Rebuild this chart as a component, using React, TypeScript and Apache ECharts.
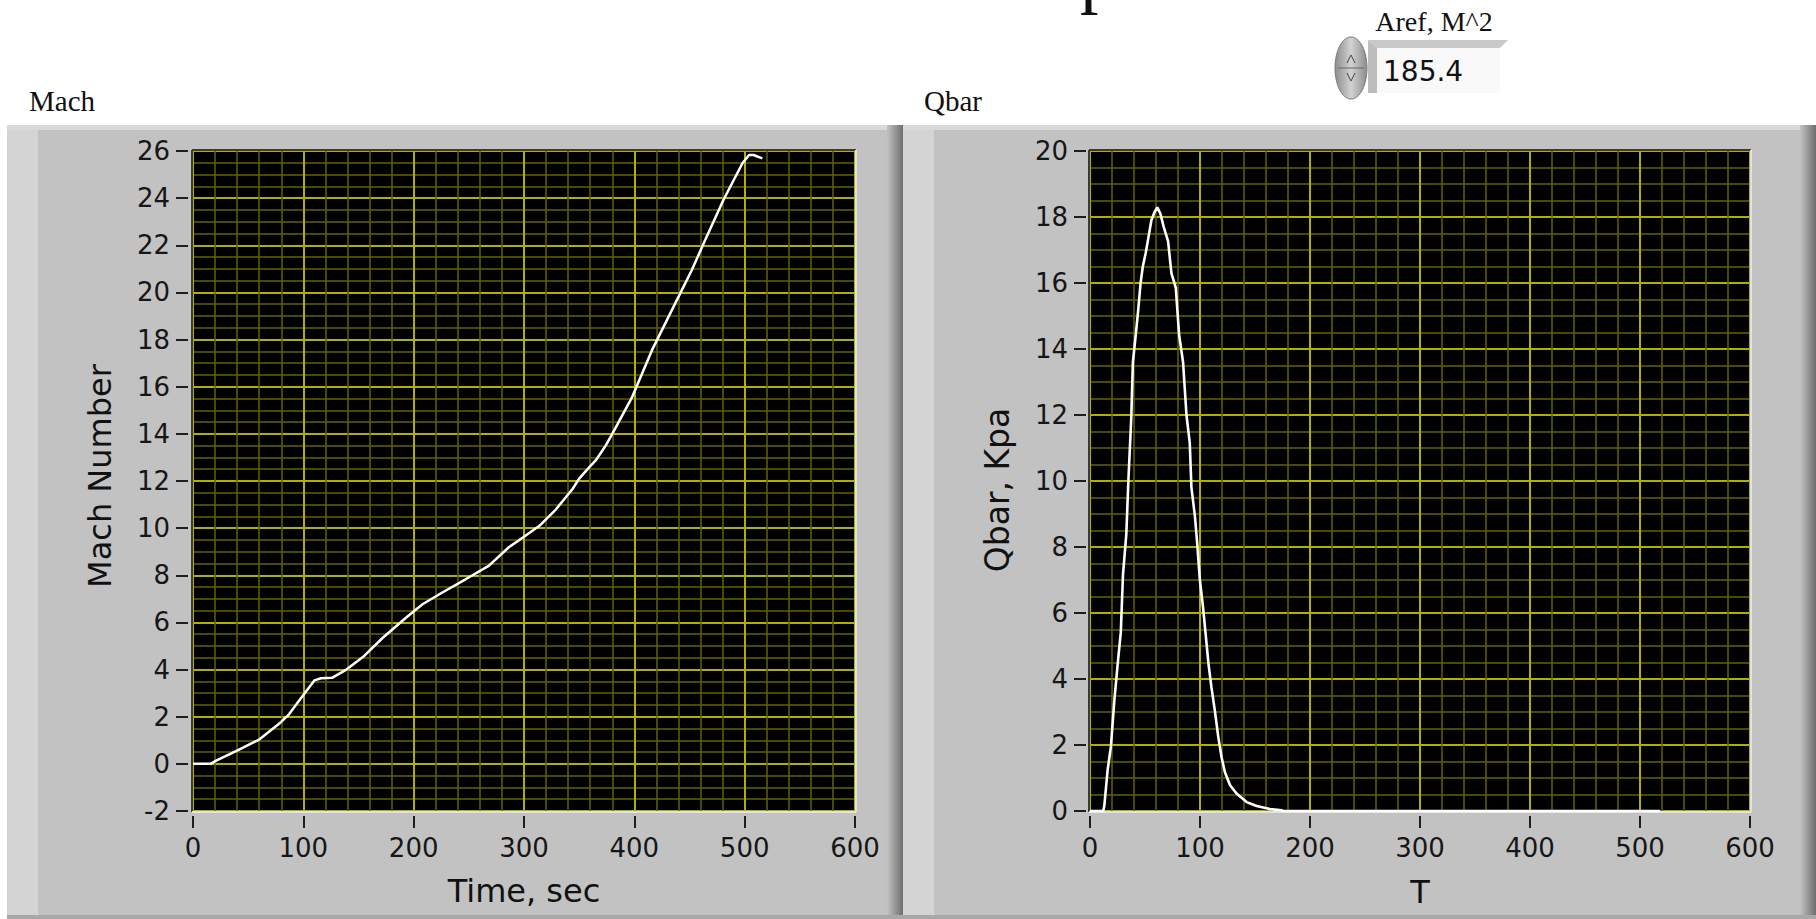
import React, { useEffect, useRef } from "react";
import * as echarts from "echarts";

// ---- data ----
const machTime = [0, 16, 21, 39, 60, 78, 87, 100, 110, 116, 126, 139, 154, 172, 193, 208, 226, 247, 268, 286, 299, 314, 329, 344, 350, 359, 365, 374, 380, 398, 416, 434, 452, 464, 480, 486, 498, 504, 508, 516];
const machValue = [0, 0, 0.14, 0.54, 1.03, 1.7, 2.1, 2.92, 3.54, 3.63, 3.65, 4.0, 4.53, 5.35, 6.2, 6.77, 7.27, 7.83, 8.4, 9.18, 9.6, 10.1, 10.8, 11.66, 12.1, 12.58, 12.87, 13.5, 14.0, 15.56, 17.55, 19.25, 20.94, 22.2, 23.85, 24.4, 25.48, 25.83, 25.83, 25.69];

const qbarTime = [0, 12, 13, 16, 19, 22, 25, 28, 30, 33, 35, 37.5, 39, 41.5, 43.6, 46, 48, 50.6, 52.7, 55.8, 58.8, 61.2, 64, 67, 71, 74, 78, 81, 84.6, 87.7, 90.7, 92.2, 95.3, 97.4, 99.8, 102.9, 105.3, 107.7, 110.4, 113.5, 116.5, 119.6, 122.6, 127.2, 133.2, 142.4, 151.5, 163.6, 174.3, 175, 518];
const qbarValue = [0, 0, 0.15, 1.24, 1.95, 3.3, 4.39, 5.42, 7.16, 8.38, 10.1, 11.9, 13.6, 14.4, 15.1, 16.0, 16.5, 16.9, 17.3, 17.9, 18.16, 18.29, 18.1, 17.7, 17.26, 16.3, 15.85, 14.43, 13.6, 12.0, 11.15, 9.8, 8.96, 8.13, 7.03, 6.13, 5.3, 4.46, 3.75, 3.04, 2.27, 1.63, 1.18, 0.79, 0.53, 0.27, 0.15, 0.06, 0.02, 0, 0];

const timeTicks = [0, 100, 200, 300, 400, 500, 600];
const machTicks = [-2, 0, 2, 4, 6, 8, 10, 12, 14, 16, 18, 20, 22, 24, 26];
const qbarTicks = [0, 2, 4, 6, 8, 10, 12, 14, 16, 18, 20];

const panelLabels = ["Mach", "Qbar"];
const axisTitles = ["Mach Number", "Time, sec", "Qbar, Kpa", "T"];
const arefLabel = "Aref, M^2";
const arefValue = "185.4";

// ---- styling ----
const SANS = '"DejaVu Sans", "Noto Sans", sans-serif';
const SERIF = '"Liberation Serif", "DejaVu Serif", serif';
const MAJOR = "#b0b000";
const MINOR = "#626200";
const PANEL = "#c2c2c2";

const G1 = { left: 193, top: 151, width: 662, height: 660 };
const G2 = { left: 1090, top: 151, width: 660, height: 660 };

function xAxisOf(gridIndex: number) {
  return {
    type: "value",
    gridIndex,
    min: timeTicks[0],
    max: timeTicks[timeTicks.length - 1],
    interval: timeTicks[1] - timeTicks[0],
    offset: 5,
    axisLine: { show: false, onZero: false },
    axisTick: { show: true, length: 12, lineStyle: { color: "#1e1e1e", width: 2 } },
    axisLabel: { fontSize: 26, fontFamily: SANS, color: "#161616", margin: 19 },
    splitLine: { show: true, lineStyle: { color: MAJOR, width: 2 } },
    minorTick: { show: false, splitNumber: 5 },
    minorSplitLine: { show: true, lineStyle: { color: MINOR, width: 1.5 } },
  };
}

function yAxisOf(gridIndex: number, ticks: number[], offset: number) {
  return {
    type: "value",
    gridIndex,
    min: ticks[0],
    max: ticks[ticks.length - 1],
    interval: ticks[1] - ticks[0],
    offset,
    axisLine: { show: false, onZero: false },
    axisTick: { show: true, length: 12, lineStyle: { color: "#1e1e1e", width: 2 } },
    axisLabel: { fontSize: 26, fontFamily: SANS, color: "#161616", margin: 18 },
    splitLine: { show: true, lineStyle: { color: MAJOR, width: 2 } },
    minorTick: { show: false, splitNumber: 4 },
    minorSplitLine: { show: true, lineStyle: { color: MINOR, width: 1.5 } },
  };
}

function txt(text: string, x: number, y: number, font: string, align: string, extra: any = {}) {
  return {
    type: "text",
    x,
    y,
    z: 20,
    ...extra,
    style: {
      text,
      x: 0,
      y: 0,
      font,
      fill: "#111111",
      align,
      verticalAlign: "middle",
      textAlign: align,
      textVerticalAlign: "middle",
    },
  };
}

function frame(g: { left: number; top: number; width: number; height: number }) {
  const l = g.left - 1, t = g.top - 1, r = g.left + g.width + 1, b = g.top + g.height + 1;
  return [
    { type: "line", z: 3, shape: { x1: l, y1: t, x2: r, y2: t }, style: { stroke: "#3a3a3a", lineWidth: 2 } },
    { type: "line", z: 3, shape: { x1: l, y1: t, x2: l, y2: b }, style: { stroke: "#3a3a3a", lineWidth: 2 } },
    { type: "line", z: 3, shape: { x1: l, y1: b, x2: r, y2: b }, style: { stroke: "#e2e2e2", lineWidth: 2 } },
    { type: "line", z: 3, shape: { x1: r, y1: t, x2: r, y2: b }, style: { stroke: "#e2e2e2", lineWidth: 2 } },
  ];
}

function panel(x: number, w: number) {
  return [
    { type: "rect", z: -10, shape: { x, y: 125, width: w, height: 794 }, style: { fill: PANEL } },
    { type: "rect", z: -9, shape: { x, y: 125, width: 31, height: 794 }, style: { fill: "#d4d4d4" } },
    { type: "rect", z: -9, shape: { x, y: 125, width: w, height: 5 }, style: { fill: "#d9d9d9" } },
    {
      type: "rect",
      z: -9,
      shape: { x: x + w - 16, y: 125, width: 16, height: 794 },
      style: {
        fill: {
          type: "linear", x: 0, y: 0, x2: 1, y2: 0,
          colorStops: [
            { offset: 0, color: PANEL },
            { offset: 1, color: "#6e6e6e" },
          ],
        },
      },
    },
    { type: "rect", z: -9, shape: { x, y: 915, width: w, height: 4 }, style: { fill: "#a8a8a8" } },
  ];
}

export default function App() {
  const ref = useRef<HTMLDivElement>(null);

  useEffect(() => {
    if (!ref.current) return;
    const chart = echarts.init(ref.current, undefined, { renderer: "svg" });

    const machData = machTime.map((t, i) => [t, machValue[i]]);
    const qbarData = qbarTime.map((t, i) => [t, qbarValue[i]]);

    const graphics: any[] = [
      ...panel(7, 896),
      ...panel(903, 913),
      ...frame(G1),
      ...frame(G2),
      // cropped glyph at the top edge
      txt("p", 1080, -26, '74px ' + SERIF, "left"),
      // panel labels
      txt(panelLabels[0], 29, 101, '29px ' + SERIF, "left"),
      txt(panelLabels[1], 924, 101, '29px ' + SERIF, "left"),
      // Aref control
      txt(arefLabel, 1434, 21, '28px ' + SERIF, "center"),
      {
        type: "polygon", z: 5,
        shape: { points: [[1368, 40], [1508, 40], [1500, 48], [1377, 48]] },
        style: { fill: "#c9c9c9" },
      },
      {
        type: "polygon", z: 5,
        shape: { points: [[1368, 40], [1377, 48], [1377, 93], [1368, 93]] },
        style: { fill: "#bdbdbd" },
      },
      { type: "rect", z: 5, shape: { x: 1377, y: 48, width: 123, height: 45 }, style: { fill: "#f9f9f9" } },
      {
        type: "ellipse", z: 6,
        shape: { cx: 1351, cy: 68, rx: 16, ry: 31 },
        style: {
          fill: {
            type: "linear", x: 0, y: 0, x2: 1, y2: 0,
            colorStops: [
              { offset: 0, color: "#8c8c8c" },
              { offset: 0.5, color: "#d2d2d2" },
              { offset: 1, color: "#8c8c8c" },
            ],
          },
          stroke: "#7a7a7a",
          lineWidth: 1,
        },
      },
      { type: "line", z: 7, shape: { x1: 1338, y1: 68, x2: 1364, y2: 68 }, style: { stroke: "#666", lineWidth: 1 } },
      { type: "polyline", z: 7, shape: { points: [[1347, 63], [1351, 55], [1355, 63]] }, style: { stroke: "#444", lineWidth: 1, fill: "none" } },
      { type: "polyline", z: 7, shape: { points: [[1347, 73], [1351, 81], [1355, 73]] }, style: { stroke: "#444", lineWidth: 1, fill: "none" } },
      txt(arefValue, 1383, 71, '28px ' + SANS, "left"),
      // axis titles
      txt(axisTitles[0], 100, 476, '32px ' + SANS, "center", { rotation: Math.PI / 2 }),
      txt(axisTitles[1], 524, 891, '32px ' + SANS, "center"),
      txt(axisTitles[2], 997, 490, '33px ' + SANS, "center", { rotation: Math.PI / 2 }),
      txt(axisTitles[3], 1420, 892, '32px ' + SANS, "center"),
    ];

    chart.setOption({
      animation: false,
      backgroundColor: "#ffffff",
      grid: [
        { ...G1, show: true, backgroundColor: "#000000", borderWidth: 0, containLabel: false },
        { ...G2, show: true, backgroundColor: "#000000", borderWidth: 0, containLabel: false },
      ],
      xAxis: [xAxisOf(0), xAxisOf(1)],
      yAxis: [yAxisOf(0, machTicks, 5), yAxisOf(1, qbarTicks, 4)],
      series: [
        {
          type: "line",
          xAxisIndex: 0,
          yAxisIndex: 0,
          data: machData,
          showSymbol: false,
          symbol: "none",
          lineStyle: { color: "#ffffff", width: 2.5 },
          z: 5,
        },
        {
          type: "line",
          xAxisIndex: 1,
          yAxisIndex: 1,
          data: qbarData,
          showSymbol: false,
          symbol: "none",
          clip: false,
          lineStyle: { color: "#ffffff", width: 2.6 },
          z: 5,
        },
      ],
      graphic: { elements: graphics },
    });

    return () => chart.dispose();
  }, []);

  return (
    <div
      ref={ref}
      style={{ position: "fixed", left: 0, top: 0, width: 1816, height: 919, background: "#fff" }}
    />
  );
}
